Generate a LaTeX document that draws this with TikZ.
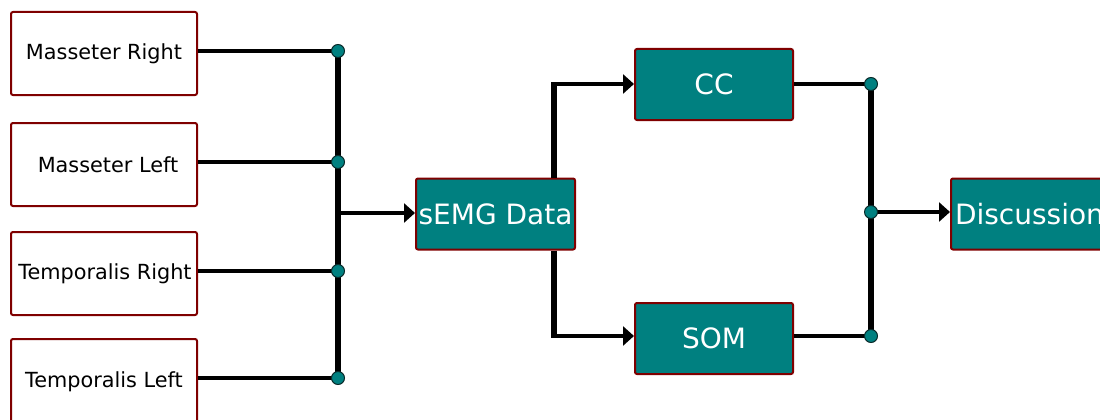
\documentclass[tikz,border=0pt]{standalone}
\usepackage{fontspec}
\setmainfont{DejaVu Sans}
\usetikzlibrary{arrows.meta}
\definecolor{boxteal}{HTML}{008080}
\definecolor{boxred}{HTML}{7F0000}
\definecolor{dotline}{HTML}{0A2A2A}
\tikzset{
  inbox/.style={draw=boxred, line width=2pt, fill=white, rounded corners=2pt,
    minimum width=186pt, minimum height=83pt, inner sep=0pt,
    font=\fontsize{20.8}{24}\selectfont},
  procbox/.style={draw=boxred, line width=2pt, fill=boxteal, rounded corners=2pt,
    text=white, minimum height=71pt, inner sep=0pt,
    font=\fontsize{28}{32}\selectfont},
  wire/.style={line width=3.6pt, black},
  bus/.style={line width=6pt, black},
  arrowwire/.style={line width=3.6pt, black, -{Triangle[length=11pt,width=19pt]}},
  joint/.style={circle, fill=boxteal, draw=dotline, line width=1pt,
    minimum size=13pt, inner sep=0pt},
}
\begin{document}
\begin{tikzpicture}[x=1pt,y=-1pt]
\useasboundingbox (0,0) rectangle (1100,420);
% input boxes
\node[inbox] (mr) at (104,53.5) {Masseter Right};
\node[inbox] (ml) at (104,164.5) {\hspace{8pt}Masseter Left};
\node[inbox] (tr) at (104,273.5) {\hspace{2pt}Temporalis Right};
\node[inbox, minimum height=88pt] (tl) at (104,383) {\raisebox{6pt}{Temporalis Left}};
% process boxes
\node[procbox, minimum width=159pt] (semg) at (495.5,214) {sEMG Data};
\node[procbox, minimum width=158pt] (cc) at (714,84.5) {CC};
\node[procbox, minimum width=158pt] (som) at (714,338.5) {SOM};
\node[procbox, minimum width=160pt, anchor=west, align=left, text width=152pt] (disc) at (950,214) {Discussion};
% joints coordinates
\coordinate (j1) at (338,51);
\coordinate (j2) at (338,162);
\coordinate (j3) at (338,271);
\coordinate (j4) at (338,378);
\coordinate (jm) at (338,213);
\coordinate (b1) at (554,84);
\coordinate (b2) at (554,336);
\coordinate (k1) at (871,84);
\coordinate (k2) at (871,212);
\coordinate (k3) at (871,336);
% left bus
\draw[bus] (j1) -- (j4);
\draw[wire] (mr.east |- j1) -- (j1);
\draw[wire] (ml.east |- j2) -- (j2);
\draw[wire] (tr.east |- j3) -- (j3);
\draw[wire] (tl.east |- j4) -- (j4);
\draw[arrowwire] (jm) -- (semg.west |- jm);
% branch to CC and SOM
\draw[bus] (semg.north -| b1) -- ([yshift=-1.8pt]b1);
\draw[bus] (semg.south -| b2) -- ([yshift=1.8pt]b2);
\draw[arrowwire] ([xshift=-3pt]b1) -- (cc.west |- b1);
\draw[arrowwire] ([xshift=-3pt]b2) -- (som.west |- b2);
% right bus
\draw[bus] (k1) -- (k3);
\draw[wire] (cc.east |- k1) -- (k1);
\draw[wire] (som.east |- k3) -- (k3);
\draw[arrowwire] (k2) -- (disc.west |- k2);
% joint dots
\foreach \j in {j1,j2,j3,j4,k1,k2,k3} \node[joint] at (\j) {};
\end{tikzpicture}
\end{document}
